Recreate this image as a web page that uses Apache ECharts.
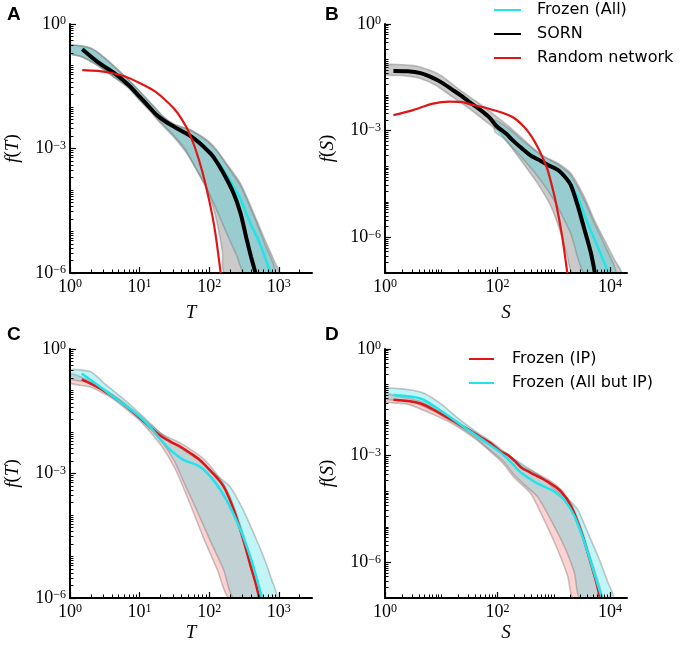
<!DOCTYPE html>
<html><head><meta charset="utf-8">
<script src="https://cdn.jsdelivr.net/npm/echarts@6/dist/echarts.min.js"></script>
<style>html,body{margin:0;padding:0;background:#fff}#c{width:680px;height:645px}</style>
</head><body><div id="c"></div><script>
// All values as [log10(x), log10(f)] pairs.
// ---- Panel A : duration T ----
const A_sorn = [[0.176,-0.61],[0.4,-0.92],[0.65,-1.20],[0.85,-1.48],[1.0,-1.75],[1.15,-2.02],[1.25,-2.20],[1.37,-2.35],[1.5,-2.48],[1.63,-2.60],[1.75,-2.72],[1.87,-2.88],[1.97,-3.04],[2.06,-3.20],[2.2,-3.58],[2.35,-4.08],[2.45,-4.56],[2.54,-5.2],[2.6,-5.6],[2.665,-6.0]];
const A_random = [[0.176,-1.11],[0.4,-1.13],[0.6,-1.18],[0.8,-1.27],[1.0,-1.42],[1.2,-1.60],[1.35,-1.80],[1.5,-2.05],[1.6,-2.28],[1.7,-2.58],[1.8,-3.0],[1.9,-3.55],[2.0,-4.25],[2.08,-4.95],[2.165,-6.0]];
const A_frozen = [[0.176,-0.58],[0.4,-0.90],[0.65,-1.19],[1.0,-1.74],[1.25,-2.19],[1.5,-2.47],[1.75,-2.71],[2.0,-3.08],[2.15,-3.38],[2.3,-3.78],[2.45,-4.22],[2.59,-4.80],[2.73,-5.3],[2.88,-6.0]];
const A_sornHi = [[0,-0.51],[0.3,-0.585],[0.5,-0.82],[0.8,-1.28],[1.0,-1.62],[1.2,-1.98],[1.35,-2.25],[1.5,-2.42],[1.73,-2.55],[1.97,-2.80],[2.11,-3.04],[2.25,-3.36],[2.45,-3.84],[2.64,-4.56],[2.78,-5.12],[2.93,-5.69],[3.0,-6.0]];
const A_sornLo = [[0,-0.71],[0.17,-0.79],[0.4,-1.0],[0.65,-1.3],[0.85,-1.55],[1.0,-1.83],[1.15,-2.1],[1.3,-2.39],[1.49,-2.72],[1.68,-3.12],[1.82,-3.52],[1.97,-4.0],[2.08,-4.55],[2.15,-5.1],[2.19,-5.5],[2.22,-6.0]];
const A_frozenHi = [[0,-0.51],[0.3,-0.585],[0.5,-0.82],[0.8,-1.28],[1.0,-1.62],[1.2,-1.98],[1.35,-2.25],[1.5,-2.42],[1.73,-2.56],[1.97,-2.82],[2.11,-3.06],[2.25,-3.4],[2.45,-3.9],[2.64,-4.62],[2.8,-5.3],[2.95,-6.0]];
const A_frozenLo = [[0,-0.71],[0.17,-0.79],[0.4,-1.0],[0.65,-1.3],[0.85,-1.55],[1.0,-1.83],[1.15,-2.08],[1.3,-2.36],[1.49,-2.68],[1.65,-3.0],[1.8,-3.45],[1.95,-3.9],[2.1,-4.45],[2.25,-5.04],[2.4,-5.6],[2.5,-6.0]];
// ---- Panel B : size S ----
const B_sorn = [[0.15,-1.32],[0.4,-1.33],[0.63,-1.38],[0.8,-1.48],[0.98,-1.62],[1.2,-1.85],[1.34,-2.0],[1.52,-2.22],[1.7,-2.42],[1.85,-2.62],[1.99,-2.88],[2.15,-3.08],[2.29,-3.30],[2.45,-3.52],[2.59,-3.70],[2.77,-3.85],[2.89,-3.96],[3.07,-4.10],[3.2,-4.30],[3.3,-4.52],[3.42,-5.08],[3.54,-5.75],[3.66,-6.44],[3.73,-7.0]];
const B_random = [[0.15,-2.56],[0.5,-2.42],[0.85,-2.24],[1.15,-2.18],[1.35,-2.19],[1.52,-2.26],[1.8,-2.36],[2.11,-2.51],[2.3,-2.65],[2.47,-2.89],[2.6,-3.15],[2.71,-3.45],[2.8,-3.75],[2.89,-4.10],[3.0,-4.76],[3.06,-5.2],[3.125,-5.75],[3.18,-6.3],[3.24,-7.0]];
const B_frozen = [[1.95,-2.82],[2.15,-3.07],[2.45,-3.5],[2.77,-3.84],[3.0,-4.02],[3.1,-4.15],[3.245,-4.38],[3.42,-4.85],[3.6,-5.6],[3.78,-6.26],[3.97,-7.0]];
const B_sornHi = [[0,-1.15],[0.5,-1.17],[0.8,-1.30],[1.0,-1.45],[1.3,-1.82],[1.6,-2.15],[1.9,-2.5],[2.2,-2.88],[2.5,-3.3],[2.77,-3.68],[3.07,-3.91],[3.3,-4.19],[3.54,-4.85],[3.72,-5.51],[3.9,-6.07],[4.08,-6.63],[4.2,-7.0]];
const B_sornLo = [[0,-1.42],[0.3,-1.45],[0.6,-1.52],[0.9,-1.72],[1.2,-2.05],[1.5,-2.38],[1.8,-2.75],[2.05,-3.07],[2.41,-3.82],[2.71,-4.48],[2.95,-5.13],[3.125,-5.88],[3.24,-6.53],[3.33,-7.0]];
const B_frozenHi = [[1.95,-2.7],[2.2,-2.95],[2.5,-3.35],[2.8,-3.7],[3.07,-3.95],[3.3,-4.25],[3.54,-4.95],[3.72,-5.6],[3.9,-6.2],[4.1,-7.0]];
const B_frozenLo = [[1.95,-3.02],[2.1,-3.2],[2.4,-3.7],[2.7,-4.25],[3.0,-4.94],[3.3,-5.88],[3.54,-7.0]];
// ---- Panel C : duration T ----
const C_ip = [[0.168,-0.73],[0.43,-0.95],[0.72,-1.27],[1.0,-1.65],[1.15,-1.88],[1.3,-2.09],[1.44,-2.23],[1.58,-2.35],[1.73,-2.51],[1.87,-2.68],[2.01,-2.92],[2.11,-3.10],[2.21,-3.32],[2.35,-3.86],[2.49,-4.60],[2.59,-5.2],[2.66,-5.6],[2.72,-6.0]];
const C_allButIp = [[0.168,-0.59],[0.43,-0.91],[0.72,-1.27],[1.0,-1.63],[1.15,-1.88],[1.3,-2.18],[1.44,-2.43],[1.63,-2.67],[1.87,-2.84],[2.06,-3.16],[2.25,-3.64],[2.45,-4.36],[2.59,-5.0],[2.69,-5.57],[2.76,-6.0]];
const C_ipHi = [[0,-0.60],[0.168,-0.68],[0.43,-0.90],[0.72,-1.22],[1.0,-1.60],[1.3,-2.03],[1.6,-2.28],[1.9,-2.62],[2.1,-3.0],[2.25,-3.38],[2.4,-4.0],[2.55,-4.8],[2.65,-5.4],[2.74,-6.0]];
const C_ipLo = [[0,-0.82],[0.3,-0.92],[0.6,-1.18],[1.0,-1.72],[1.3,-2.3],[1.5,-2.85],[1.62,-3.3],[1.76,-3.88],[1.93,-4.6],[2.12,-5.33],[2.28,-6.0]];
const C_allButIpHi = [[0,-0.50],[0.3,-0.55],[0.5,-0.84],[0.8,-1.25],[1.0,-1.55],[1.3,-2.02],[1.6,-2.4],[1.87,-2.7],[2.11,-3.05],[2.3,-3.32],[2.49,-3.88],[2.64,-4.44],[2.78,-5.0],[2.9,-5.57],[2.97,-6.0]];
const C_allButIpLo = [[0,-0.72],[0.3,-0.82],[0.6,-1.12],[1.0,-1.68],[1.3,-2.2],[1.5,-2.7],[1.66,-3.3],[1.82,-3.88],[2.01,-4.6],[2.21,-5.33],[2.35,-6.0]];
// ---- Panel D : size S ----
const D_ip = [[0.15,-1.43],[0.63,-1.53],[0.98,-1.81],[1.34,-2.14],[1.52,-2.30],[1.7,-2.48],[1.88,-2.65],[2.06,-2.89],[2.18,-2.98],[2.30,-3.14],[2.42,-3.33],[2.59,-3.48],[2.89,-3.73],[3.13,-4.01],[3.31,-4.43],[3.49,-5.15],[3.64,-5.93],[3.76,-6.59],[3.82,-7.0]];
const D_allButIp = [[0.15,-1.29],[0.63,-1.39],[0.98,-1.72],[1.34,-2.12],[1.7,-2.52],[2.06,-2.92],[2.25,-3.2],[2.42,-3.48],[2.71,-3.78],[3.01,-4.01],[3.19,-4.25],[3.37,-4.71],[3.55,-5.46],[3.70,-6.21],[3.82,-6.82],[3.86,-7.0]];
const D_ipHi = [[0,-1.25],[0.15,-1.30],[0.6,-1.45],[1.0,-1.75],[1.34,-2.1],[1.7,-2.45],[2.06,-2.85],[2.18,-2.95],[2.42,-3.28],[2.59,-3.42],[2.89,-3.66],[3.13,-3.95],[3.31,-4.35],[3.49,-5.05],[3.64,-5.8],[3.78,-6.5],[3.85,-7.0]];
const D_ipLo = [[0,-1.48],[0.4,-1.55],[0.8,-1.8],[1.2,-2.1],[1.6,-2.52],[1.9,-2.92],[2.1,-3.22],[2.3,-3.62],[2.59,-4.06],[2.83,-4.81],[3.07,-5.65],[3.25,-6.40],[3.34,-7.0]];
const D_allButIpHi = [[0,-1.11],[0.4,-1.14],[0.7,-1.25],[1.0,-1.55],[1.3,-1.95],[1.6,-2.3],[1.9,-2.62],[2.06,-2.82],[2.3,-3.1],[2.6,-3.4],[2.8,-3.62],[3.01,-3.93],[3.25,-4.22],[3.43,-4.53],[3.61,-5.18],[3.79,-5.84],[3.97,-6.59],[4.06,-7.0]];
const D_allButIpLo = [[0,-1.40],[0.4,-1.45],[0.8,-1.7],[1.2,-2.05],[1.6,-2.48],[1.9,-2.88],[2.1,-3.15],[2.3,-3.55],[2.5,-3.85],[2.71,-4.15],[2.95,-4.81],[3.19,-5.56],[3.37,-6.31],[3.46,-7.0]];
// ---- axes ----
const xMaxTS = [3000, 20000, 3000, 20000];
const yMinTS = [1e-6, 1e-7, 1e-6, 1e-7];
const xLabelExp = [[0,1,2,3],[0,2,4],[0,1,2,3],[0,2,4]];
const yLabelExp = [-6,-3,0];
const xNames = ['T','S','T','S'];
const panelLetters = ['A','B','C','D'];

const SERIF = '"Liberation Serif","DejaVu Serif",serif';
const SANS = '"DejaVu Sans","Liberation Sans",sans-serif';
const CYAN = '#22e3ea', RED = '#e01616', BLACK = '#000';
const GRAY_FILL = 'rgba(128,128,128,0.42)', CYAN_FILL = 'rgba(0,215,220,0.24)', RED_FILL = 'rgba(255,50,50,0.22)';
const EDGE = 'rgba(110,110,110,0.38)';

const toReal = arr => arr.map(p => [Math.pow(10, p[0]), Math.pow(10, p[1])]);
const L10 = Math.log10;

const grids = [
  {left:70, top:24, width:242, height:249},
  {left:385, top:24, width:242, height:249},
  {left:70, top:349, width:242, height:249},
  {left:385, top:349, width:242, height:249}
].map(g => Object.assign(g, {containLabel:false, outerBoundsMode:'none'}));

function minorPositions(lo, hi, majors) {
  const out = [];
  for (let n = Math.floor(lo); n <= Math.ceil(hi); n++) {
    for (let k = 1; k <= 9; k++) {
      if (k === 1 && majors.indexOf(n) >= 0) continue;
      const v = n + L10(k);
      if (v > lo + 1e-9 && v < hi - 1e-9) out.push(v);
    }
  }
  return out;
}
const expFmt = v => { const e = Math.round(v); return '{b|10}{s|' + (e < 0 ? '\u2212' + (-e) : e) + '}'; };
const labelRich = {
  b: {fontFamily: SERIF, fontSize: 18, color: '#000'},
  s: {fontFamily: SERIF, fontSize: 12, color: '#000', verticalAlign: 'top'}
};
const nameRich = {
  i: {fontFamily: SERIF, fontSize: 19, fontStyle: 'italic', color: '#000'},
  n: {fontFamily: SERIF, fontSize: 19, color: '#000'}
};
const noLine = {show:false, onZero:false};

const xAxes = [], yAxes = [];
for (let p = 0; p < 4; p++) {
  const xMaxE = L10(xMaxTS[p]), yMinE = L10(yMinTS[p]);
  const xNameGap = p < 2 ? 30 : 25;
  xAxes.push({type:'log', logBase:10, gridIndex:p, position:'bottom', min:1, max:xMaxTS[p],
    axisLine:{show:true, onZero:false, lineStyle:{color:'#000', width:2}}, axisTick:{show:false}, axisLabel:{show:false}, splitLine:{show:false},
    name:'{i|' + xNames[p] + '}', nameLocation:'middle', nameGap:xNameGap, nameTextStyle:{rich:nameRich, fontFamily:SERIF, fontSize:19}, z:5});
  xAxes.push({type:'value', gridIndex:p, position:'bottom', min:0, max:xMaxE,
    axisLine:noLine, splitLine:{show:false},
    axisTick:{show:true, inside:true, length:6, lineStyle:{color:'#000', width:1.2}, customValues:xLabelExp[p]},
    axisLabel:{show:true, customValues:xLabelExp[p], margin:5, formatter:expFmt, rich:labelRich}, z:5});
  xAxes.push({type:'value', gridIndex:p, position:'bottom', min:0, max:xMaxE,
    axisLine:noLine, splitLine:{show:false}, axisLabel:{show:false},
    axisTick:{show:true, inside:true, length:3.5, lineStyle:{color:'#000', width:1}, customValues:minorPositions(0, xMaxE, xLabelExp[p])}, z:5});

  yAxes.push({type:'log', logBase:10, gridIndex:p, position:'left', min:yMinTS[p], max:1,
    axisLine:{show:true, onZero:false, lineStyle:{color:'#000', width:2}}, axisTick:{show:false}, axisLabel:{show:false}, splitLine:{show:false},
    name:'{i|f}{n|(}{i|' + xNames[p] + '}{n|)}', nameLocation:'middle', nameRotate:90, nameGap:48,
    nameTextStyle:{rich:nameRich, fontFamily:SERIF, fontSize:19}, z:5});
  yAxes.push({type:'value', gridIndex:p, position:'left', min:yMinE, max:0,
    axisLine:noLine, splitLine:{show:false},
    axisTick:{show:true, inside:true, length:6, lineStyle:{color:'#000', width:1.2}, customValues:yLabelExp},
    axisLabel:{show:true, customValues:yLabelExp, margin:4, formatter:expFmt, rich:labelRich}, z:5});
  yAxes.push({type:'value', gridIndex:p, position:'left', min:yMinE, max:0,
    axisLine:noLine, splitLine:{show:false}, axisLabel:{show:false},
    axisTick:{show:true, inside:true, length:3.5, lineStyle:{color:'#000', width:1}, customValues:minorPositions(yMinE, 0, yLabelExp)}, z:5});
}

function band(p, hi, lo, fill) {
  const pts = toReal(hi).concat(toReal(lo).reverse());
  return {type:'custom', xAxisIndex:3*p, yAxisIndex:3*p, data:pts, clip:true, silent:true, z:1,
    renderItem: (params, api) => {
      if (params.dataIndex !== 0) return null;
      return {type:'polygon', shape:{points: pts.map(q => api.coord(q)), smooth:0.2},
        style:{fill: fill, stroke: EDGE, lineWidth: 1.6}};
    }};
}
function curve(p, name, arr, color, width, z) {
  return {type:'line', name:name, xAxisIndex:3*p, yAxisIndex:3*p, data:toReal(arr),
    showSymbol:false, symbol:'none', smooth:0.3, clip:true, z:z,
    lineStyle:{color:color, width:width}, itemStyle:{color:color}};
}

const series = [
  band(0, A_sornHi, A_sornLo, GRAY_FILL),
  band(0, A_frozenHi, A_frozenLo, CYAN_FILL),
  curve(0, 'Frozen (All)', A_frozen, CYAN, 2.5, 3),
  curve(0, 'SORN', A_sorn, BLACK, 4, 4),
  curve(0, 'Random network', A_random, RED, 2.2, 5),
  band(1, B_sornHi, B_sornLo, GRAY_FILL),
  band(1, B_frozenHi, B_frozenLo, CYAN_FILL),
  curve(1, 'Frozen (All)', B_frozen, CYAN, 2.5, 3),
  curve(1, 'SORN', B_sorn, BLACK, 4, 4),
  curve(1, 'Random network', B_random, RED, 2.2, 5),
  band(2, C_ipHi, C_ipLo, RED_FILL),
  band(2, C_allButIpHi, C_allButIpLo, CYAN_FILL),
  curve(2, 'Frozen (IP)', C_ip, RED, 2.5, 3),
  curve(2, 'Frozen (All but IP)', C_allButIp, CYAN, 2.5, 4),
  band(3, D_ipHi, D_ipLo, RED_FILL),
  band(3, D_allButIpHi, D_allButIpLo, CYAN_FILL),
  curve(3, 'Frozen (IP)', D_ip, RED, 2.5, 3),
  curve(3, 'Frozen (All but IP)', D_allButIp, CYAN, 2.5, 4)
];

const legendText = {fontFamily:SANS, fontSize:16, color:'#000'};
const option = {
  animation:false,
  backgroundColor:'#fff',
  grid:grids, xAxis:xAxes, yAxis:yAxes, series:series,
  legend:[
    {orient:'vertical', left:493, top:2, padding:0, itemWidth:27, itemHeight:14, itemGap:8, selectedMode:false,
     itemStyle:{opacity:0},
     data:['Frozen (All)','SORN','Random network'], textStyle:Object.assign({padding:[0,0,0,11]}, legendText)},
    {orient:'vertical', left:468, top:351, padding:0, itemWidth:25, itemHeight:14, itemGap:8, selectedMode:false,
     itemStyle:{opacity:0},
     data:['Frozen (IP)','Frozen (All but IP)'], textStyle:Object.assign({padding:[0,0,0,13]}, legendText)}
  ],
  graphic: panelLetters.map((t, i) => ({type:'text', left:[7,325,7,325][i], top:[5,5,325,325][i],
    style:{text:t, font:'bold 19px "Liberation Sans", Arial, sans-serif', fill:'#000'}}))
};
const chart = echarts.init(document.getElementById('c'), null, {renderer:'canvas'});
chart.setOption(option);
</script></body></html>
